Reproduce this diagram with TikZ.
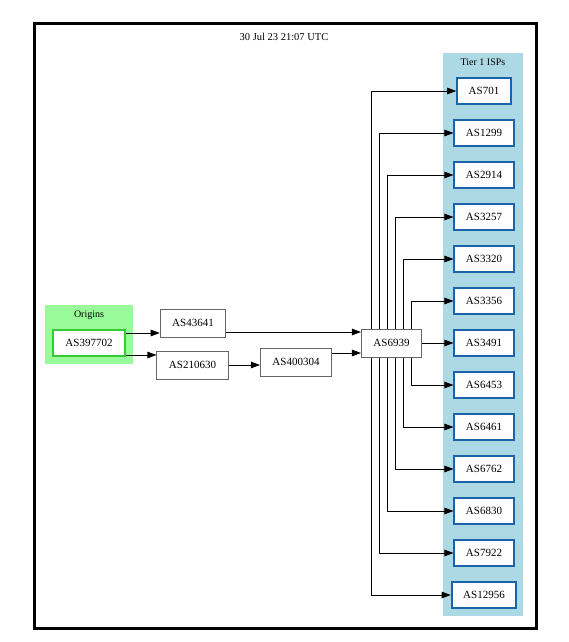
\documentclass[tikz,border=0pt]{standalone}
\usepackage{fontspec}
\setmainfont{Liberation Serif}
\usetikzlibrary{arrows.meta, positioning}

\tikzset{
  asbox/.style={draw=boxgray, line width=1pt, fill=white, minimum width=54pt, minimum height=28pt, inner xsep=12pt, font=\fontsize{11}{13}\selectfont},
  tierbox/.style={draw=tierblue, line width=2pt, fill=white, minimum width=52pt, minimum height=26pt, inner xsep=11.5pt, font=\fontsize{11}{13}\selectfont},
  originbox/.style={draw=origingreen, line width=2pt, fill=white, minimum width=52pt, minimum height=26pt, inner xsep=12.5pt, font=\fontsize{11}{13}\selectfont},
  edge/.style={line width=0.8pt, -{Triangle[length=9pt,width=6.5pt]}},
  clusterlabel/.style={font=\fontsize{10}{12}\selectfont}
}

\begin{document}
\begin{tikzpicture}[x=1pt, y=-1pt]
        % Define some colors for convenience
        \definecolor{boxgray}{rgb}{0.4,0.4,0.4} % plain AS box border
        \definecolor{tierblue}{rgb}{0.10,0.39,0.67} % tier 1 box border
        \definecolor{origingreen}{rgb}{0.2,0.8,0.2} % origin box border
        \definecolor{tierfill}{rgb}{0.68,0.85,0.90} % tier 1 cluster
        \definecolor{originfill}{rgb}{0.60,0.98,0.60} % origins cluster

        \useasboundingbox (0,0) rectangle (568,642);

        % Outer frame and title
        \draw[line width=3pt] (34,24) rectangle (536,628); % frame
        \node (title) at (284,37) {\fontsize{10.5}{12}\selectfont 30 Jul 23 21:07 UTC}; % date

        % Clusters
        \fill[originfill] (45,305) rectangle (133,364); % Origins
        \node[clusterlabel] (originlabel) at (89,315) {Origins};
        \fill[tierfill] (443,53) rectangle (523,616); % Tier 1 ISPs
        \node[clusterlabel] (tierlabel) at (483,62) {Tier 1 ISPs};

        % Path nodes
        \node[originbox] (as397702) at (89,343) {AS397702};
        \node[asbox] (as43641) at (193,323) {AS43641};
        \node[asbox] (as210630) at (192.5,365) {AS210630};
        \node[asbox] (as400304) at (296,362) {AS400304};
        \node[asbox] (as6939) at (391.5,343) {AS6939};

        % Tier 1 nodes
        \node[tierbox] (as701) at (484,91) {AS701};
        \node[tierbox] (as1299) at (484,133) {AS1299};
        \node[tierbox] (as2914) at (484,175) {AS2914};
        \node[tierbox] (as3257) at (484,217) {AS3257};
        \node[tierbox] (as3320) at (484,259) {AS3320};
        \node[tierbox] (as3356) at (484,301) {AS3356};
        \node[tierbox] (as3491) at (484,343) {AS3491};
        \node[tierbox] (as6453) at (484,385) {AS6453};
        \node[tierbox] (as6461) at (484,427) {AS6461};
        \node[tierbox] (as6762) at (484,469) {AS6762};
        \node[tierbox] (as6830) at (484,511) {AS6830};
        \node[tierbox] (as7922) at (484,553) {AS7922};
        \node[tierbox] (as12956) at (484,595) {AS12956};

        % Edges towards AS6939
        \draw[edge] ([yshift=10pt]as397702.east) -- ([yshift=10pt]as397702.east -| as43641.west);
        \draw[edge] ([yshift=-12pt]as397702.east) -- ([yshift=-12pt]as397702.east -| as210630.west);
        \draw[edge] ([yshift=-9pt]as43641.east) -- ([yshift=-9pt]as43641.east -| as6939.west);
        \draw[edge] (as210630.east) -- (as210630.east -| as400304.west);
        \draw[edge] ([yshift=9pt]as400304.east) -- ([yshift=9pt]as400304.east -| as6939.west);

        % Edges from AS6939 to tier 1
        \draw[edge] ([xshift=-20pt]as6939.north) |- (as701);
        \draw[edge] ([xshift=-12pt]as6939.north) |- (as1299);
        \draw[edge] ([xshift=-4pt]as6939.north) |- (as2914);
        \draw[edge] ([xshift=4pt]as6939.north) |- (as3257);
        \draw[edge] ([xshift=12pt]as6939.north) |- (as3320);
        \draw[edge] ([xshift=20pt]as6939.north) |- (as3356);
        \draw[edge] (as6939.east) -- (as3491.west);
        \draw[edge] ([xshift=20pt]as6939.south) |- (as6453);
        \draw[edge] ([xshift=12pt]as6939.south) |- (as6461);
        \draw[edge] ([xshift=4pt]as6939.south) |- (as6762);
        \draw[edge] ([xshift=-4pt]as6939.south) |- (as6830);
        \draw[edge] ([xshift=-12pt]as6939.south) |- (as7922);
        \draw[edge] ([xshift=-20pt]as6939.south) |- (as12956);
\end{tikzpicture}
\end{document}
